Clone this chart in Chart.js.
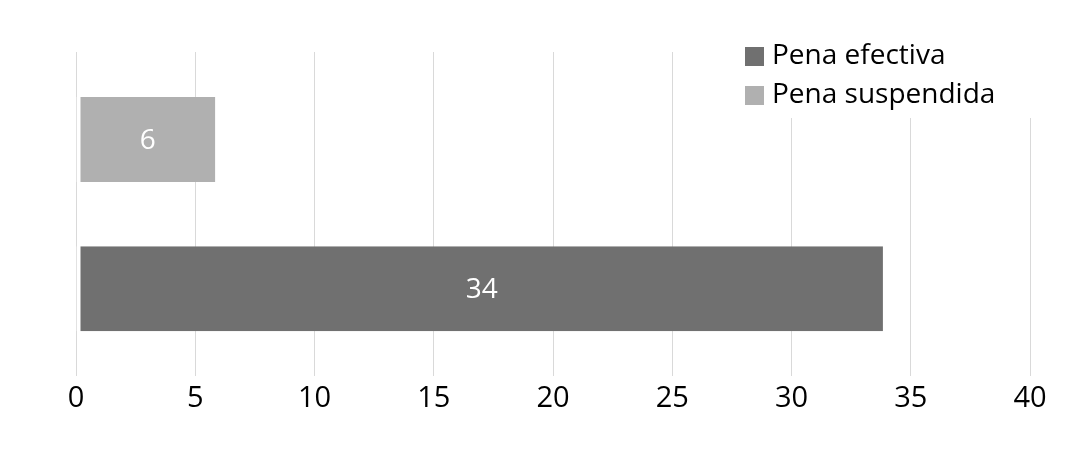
<!DOCTYPE html>
<html>
<head>
<meta charset="utf-8">
<script src="https://cdn.jsdelivr.net/npm/chart.js@4"></script>
<style>
  html, body { margin: 0; padding: 0; background: #fff; }
  #wrap { width: 1090px; height: 460px; }
</style>
</head>
<body>
<div id="wrap"><canvas id="chart"></canvas></div>
<script>
// datos
const seriesNames = ['Pena efectiva', 'Pena suspendida'];
const seriesValues = [34, 6];
const seriesColors = ['#707070', '#b0b0b0'];
const xTicks = [0, 5, 10, 15, 20, 25, 30, 35, 40];

const FONT = "'Open Sans', 'Noto Sans', sans-serif";

// etiquetas blancas dentro de las barras
const barLabels = {
    id: 'barLabels',
    afterDatasetsDraw(chart) {
        const ctx = chart.ctx;
        ctx.save();
        ctx.fillStyle = '#ffffff';
        ctx.font = '28px ' + FONT;
        ctx.textAlign = 'center';
        ctx.textBaseline = 'middle';
        chart.data.datasets.forEach((ds, i) => {
            chart.getDatasetMeta(i).data.forEach((bar, j) => {
                const cx = (bar.x + bar.base) / 2;
                ctx.fillText(String(ds.data[j]), cx, bar.y + 1);
            });
        });
        ctx.restore();
    }
};

// leyenda vertical dentro del área, arriba a la derecha
const boxLegend = {
    id: 'boxLegend',
    afterDraw(chart) {
        const ctx = chart.ctx;
        const left = 745, top = 47, row = 39;
        ctx.save();
        ctx.fillStyle = '#ffffff';
        ctx.fillRect(738, 40, 320, 78);
        ctx.font = '28px ' + FONT;
        ctx.textBaseline = 'middle';
        seriesNames.forEach((name, i) => {
            ctx.fillStyle = seriesColors[i];
            ctx.fillRect(left, top + i * row, 19, 19);
            ctx.fillStyle = '#000000';
            ctx.fillText(name, left + 27, top + i * row + 9);
        });
        ctx.restore();
    }
};

// la serie suspendida va arriba, la efectiva abajo
const datasets = seriesNames.map((name, i) => ({
    label: name,
    data: [seriesValues[i]],
    backgroundColor: seriesColors[i],
    borderColor: '#ffffff',
    borderWidth: { left: 4, right: 4, top: 0, bottom: 0 },
    borderSkipped: false,
    categoryPercentage: 0.92,
    barPercentage: 0.57
})).reverse();

new Chart(document.getElementById('chart'), {
    type: 'bar',
    data: { labels: [''], datasets: datasets },
    plugins: [barLabels, boxLegend],
    options: {
        indexAxis: 'y',
        responsive: true,
        maintainAspectRatio: false,
        animation: false,
        layout: { padding: { left: 76, right: 60, top: 52, bottom: 39 } },
        plugins: {
            legend: { display: false },
            tooltip: { enabled: false }
        },
        scales: {
            x: {
                min: xTicks[0],
                max: xTicks[xTicks.length - 1],
                afterBuildTicks: axis => { axis.ticks = xTicks.map(v => ({ value: v })); },
                grid: { color: '#d9d9d9', lineWidth: 1, drawTicks: false },
                border: { display: false },
                ticks: { color: '#000000', padding: 5, font: { family: FONT, size: 29 } }
            },
            y: {
                display: false
            }
        }
    }
});
</script>
</body>
</html>
